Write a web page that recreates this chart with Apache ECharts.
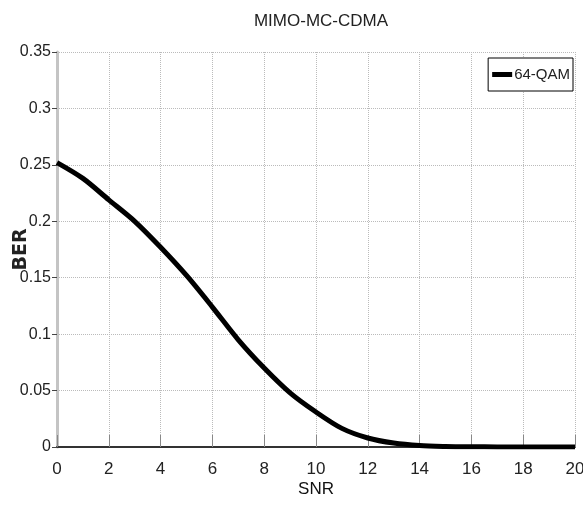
<!DOCTYPE html>
<html>
<head>
<meta charset="utf-8">
<script src="https://cdn.jsdelivr.net/npm/echarts@6/dist/echarts.min.js"></script>
<style>
  html, body { margin: 0; padding: 0; background: #fff; }
  #chart { width: 583px; height: 510px; }
</style>
</head>
<body>
<div id="chart"></div>
<script>
"use strict";
// SNR (dB) on x, bit error rate on y
const snr = [0, 1, 2, 3, 4, 5, 6, 7, 8, 9, 10, 11, 12, 13, 14, 15, 16, 17, 18, 19, 20];
const ber = [0.252, 0.238, 0.219, 0.200, 0.177, 0.152, 0.124, 0.095, 0.070, 0.048,
             0.031, 0.0165, 0.008, 0.0035, 0.0013, 0.0005, 0.0002, 0.0001, 0.0001, 0, 0];
const seriesName = '64-QAM';
const titleText = 'MIMO-MC-CDMA';

const narrow = '"Liberation Sans Narrow", "Liberation Sans", Arial, sans-serif';

const myChart = echarts.init(document.getElementById('chart'));

const option = {
  backgroundColor: '#fff',
  animation: false,
  title: {
    text: titleText,
    left: 316,
    top: 8,
    textAlign: 'center',
    textStyle: { fontFamily: narrow, fontSize: 17, fontWeight: 'normal', color: '#222' }
  },
  legend: {
    data: [seriesName],
    right: 10,
    top: 58,
    padding: [9, 3, 9, 4],
    itemGap: 2,
    itemWidth: 20,
    itemHeight: 5,
    icon: 'rect',
    borderColor: '#000',
    borderWidth: 1,
    backgroundColor: '#fff',
    textStyle: { fontFamily: narrow, fontSize: 15, color: '#222', padding: [0, 0, 0, -3] }
  },
  grid: { left: 57, right: 8, top: 52, bottom: 63, outerBoundsMode: 'none' },
  xAxis: {
    type: 'value',
    min: 0,
    max: 20,
    interval: 2,
    name: 'SNR',
    nameLocation: 'middle',
    nameGap: 34,
    nameMoveOverlap: false,
    nameTextStyle: { fontFamily: narrow, fontSize: 17, color: '#111' },
    axisLine: { lineStyle: { color: '#333', width: 2 } },
    axisTick: { inside: true, length: 12, lineStyle: { color: '#888', width: 1 } },
    axisLabel: { fontFamily: narrow, fontSize: 17, color: '#222', margin: 14 },
    splitLine: { show: true, lineStyle: { type: 'dotted', color: '#bbb', width: 1 } }
  },
  yAxis: {
    type: 'value',
    min: 0,
    max: 0.35,
    interval: 0.05,
    name: 'BER',
    nameLocation: 'middle',
    nameGap: 26,
    nameMoveOverlap: false,
    nameTextStyle: { fontFamily: '"DejaVu Sans", sans-serif', fontSize: 19, fontWeight: 'bold', color: '#222' },
    axisLine: { show: true, lineStyle: { color: '#c4c4c4', width: 3 } },
    axisTick: { show: true, inside: false, length: 5, lineStyle: { color: '#444', width: 1 } },
    axisLabel: {
      fontFamily: narrow, fontSize: 16, color: '#222', margin: 6,
      formatter: v => String(Math.round(v * 100) / 100)
    },
    splitLine: { show: true, lineStyle: { type: 'dotted', color: '#bbb', width: 1 } }
  },
  series: [
    {
      name: seriesName,
      type: 'line',
      smooth: 0.3,
      showSymbol: false,
      lineStyle: { color: '#000', width: 5 },
      itemStyle: { color: '#000' },
      data: snr.map((s, i) => [s, ber[i]])
    }
  ]
};

myChart.setOption(option);
</script>
</body>
</html>
